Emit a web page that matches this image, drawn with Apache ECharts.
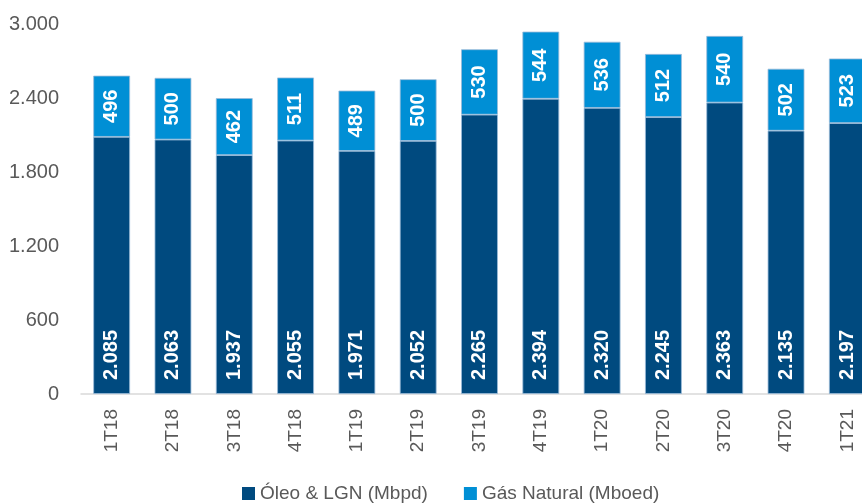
<!DOCTYPE html>
<html><head><meta charset="utf-8">
<script src="https://cdn.jsdelivr.net/npm/echarts@6/dist/echarts.min.js"></script>
<style>html,body{margin:0;padding:0;background:#fff}#c{width:862px;height:504px}</style>
</head><body><div id="c"></div>
<script>
var categories = ['1T18','2T18','3T18','4T18','1T19','2T19','3T19','4T19','1T20','2T20','3T20','4T20','1T21'];
var oleo = [2085,2063,1937,2055,1971,2052,2265,2394,2320,2245,2363,2135,2197];
var gas = [496,500,462,511,489,500,530,544,536,512,540,502,523];
var yTicks = [0,600,1200,1800,2400,3000];
var seriesNames = ['Óleo & LGN (Mbpd)','Gás Natural (Mboed)'];

var FONT = "'Liberation Sans',Arial,sans-serif";
function fmt(v){ return String(v).replace(/\B(?=(\d{3})+(?!\d))/g,'.'); }

var chart = echarts.init(document.getElementById('c'));
chart.setOption({
  animation:false,
  textStyle:{fontFamily:FONT},
  grid:{left:81,width:797,top:24,height:370,containLabel:false,outerBoundsMode:'none'},
  legend:{
    data:seriesNames, top:479, left:237, itemWidth:13, itemHeight:13, itemGap:36,
    icon:'rect', itemStyle:{borderWidth:0}, textStyle:{fontFamily:FONT,fontSize:19,color:'#595959'}
  },
  xAxis:{
    type:'category', data:categories,
    axisLine:{lineStyle:{color:'#D9D9D9',width:1.5}},
    axisTick:{show:false},
    axisLabel:{rotate:90,color:'#595959',fontSize:19,fontFamily:FONT,margin:15,interval:0}
  },
  yAxis:{
    type:'value', min:0, max:3000, interval:600,
    axisLine:{show:false}, axisTick:{show:false}, splitLine:{show:false},
    axisLabel:{color:'#595959',fontSize:20,fontFamily:FONT,margin:22,formatter:function(v){return fmt(v);}}
  },
  series:[
    {name:seriesNames[0], type:'bar', stack:'t', data:oleo, barCategoryGap:'40%',
     itemStyle:{color:'#004A7F',borderColor:'#9BBBD9',borderWidth:0.8},
     label:{show:true, position:'insideBottom', rotate:90, align:'left', verticalAlign:'middle', distance:14,
       color:'#fff', fontWeight:'bold', fontSize:20, fontFamily:FONT, formatter:function(p){return fmt(p.value);}}},
    {name:seriesNames[1], type:'bar', stack:'t', data:gas,
     itemStyle:{color:'#008FD5',borderColor:'#9BBBD9',borderWidth:0.8},
     label:{show:true, position:'inside', rotate:90, color:'#fff', fontWeight:'bold', fontSize:20, fontFamily:FONT,
       formatter:function(p){return fmt(p.value);}}}
  ]
});
</script></body></html>
